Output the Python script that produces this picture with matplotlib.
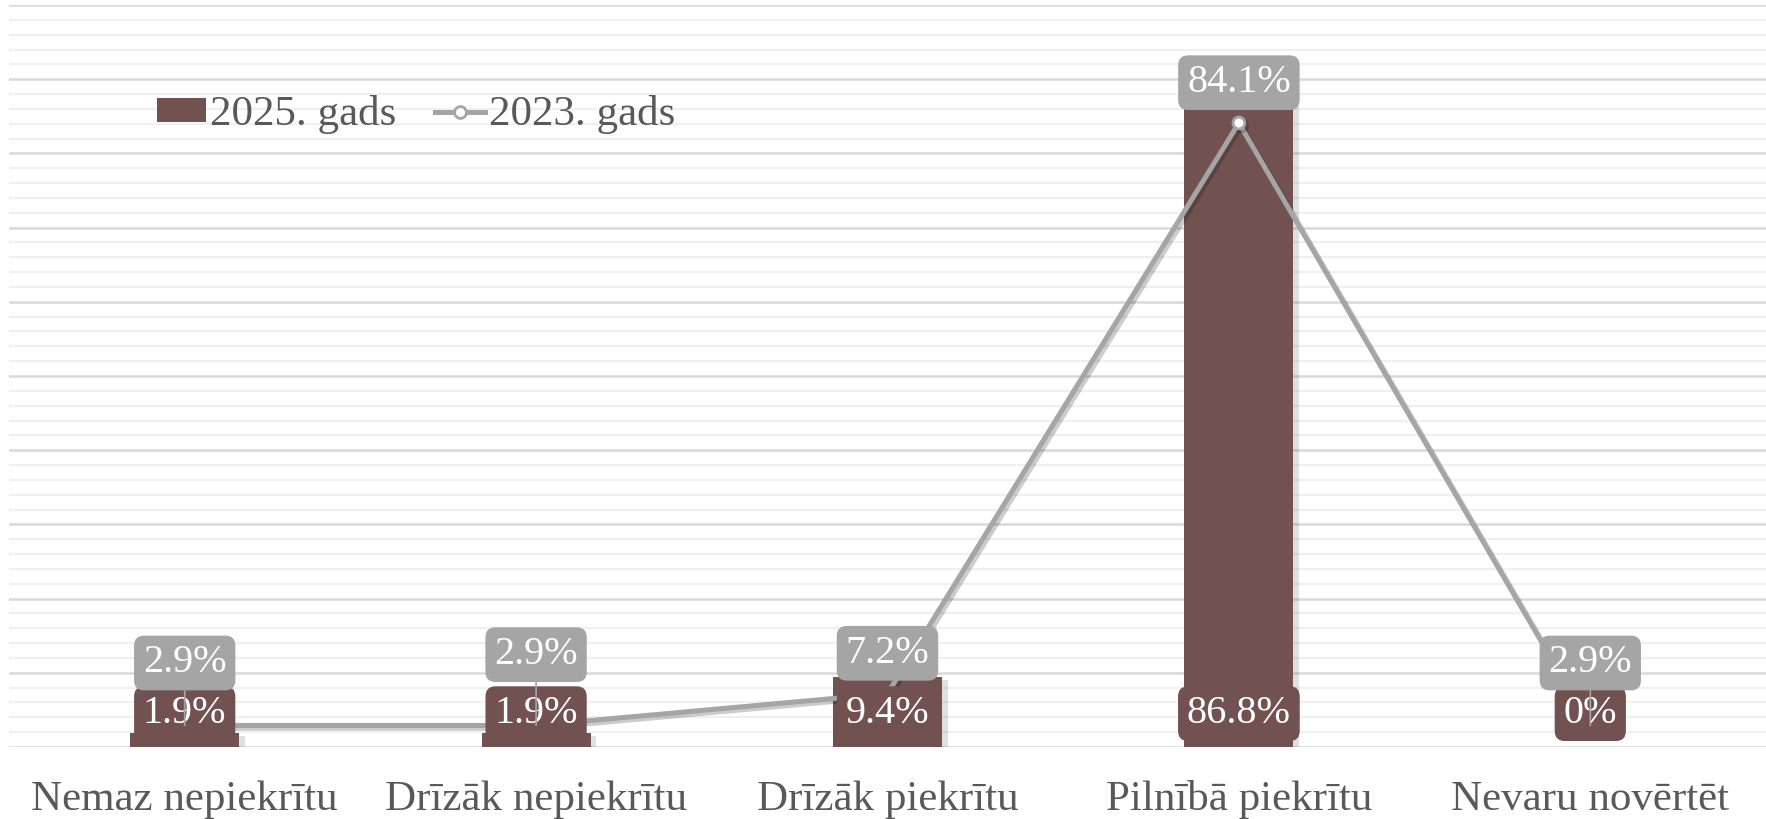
import matplotlib
matplotlib.use("Agg")
import matplotlib.pyplot as plt
import matplotlib.patheffects as pe
from matplotlib.patches import Patch
from matplotlib.lines import Line2D
import numpy as np

categories = ["Nemaz nepiekrītu", "Drīzāk nepiekrītu", "Drīzāk piekrītu", "Pilnībā piekrītu", "Nevaru novērtēt"]
values_2025 = [1.9, 1.9, 9.4, 86.8, 0.0]
values_2023 = [2.9, 2.9, 7.2, 84.1, 2.9]
labels_2025 = ["1.9%", "1.9%", "9.4%", "86.8%", "0%"]
labels_2023 = ["2.9%", "2.9%", "7.2%", "84.1%", "2.9%"]
series_names = ["2025. gads", "2023. gads"]

BAR_C = "#725250"
LINE_C = "#A5A5A5"
TXT_C = "#595959"
FONT = "Liberation Serif"

plt.rcParams["font.family"] = [FONT, "DejaVu Serif"]

fig = plt.figure(figsize=(17.66, 8.19), dpi=100)
ax = fig.add_axes([9 / 1766, 1 - 747 / 819, 1 - 9 / 1766, (747 - 5) / 819])
x = np.arange(len(categories))

ax.set_xlim(-0.5, len(categories) - 0.5)
ax.set_ylim(0, 100)

# gridlines
for yv in np.arange(0, 101, 2):
    major = (yv % 10 == 0)
    ax.axhline(yv, color="#D9D9D9" if major else "#F0F0F0", lw=1.8 if major else 1.6, zorder=0)

bars = ax.bar(x, values_2025, width=0.31, color=BAR_C, zorder=2,
              path_effects=[pe.SimplePatchShadow(offset=(4, -2), shadow_rgbFace="#000000", alpha=0.12), pe.Normal()])

line, = ax.plot(x, values_2023, color=LINE_C, lw=3.6, marker="o", markersize=8.5,
                markerfacecolor="white", markeredgecolor=LINE_C, markeredgewidth=2, zorder=3,
                path_effects=[pe.SimpleLineShadow(offset=(2, -2), alpha=0.2), pe.Normal()])

# bar labels (inside base)
for xi, lab in zip(x, labels_2025):
    ax.annotate(lab, (xi, 0), xytext=(0, 24), textcoords="offset points", ha="center", va="center",
                fontsize=29, color="white", zorder=5,
                bbox=dict(boxstyle="round,pad=0.22,rounding_size=0.25", fc=BAR_C, ec="none"))

# line labels
label_offsets = [45, 51, 29, 29, 45]
for xi, v, lab, off in zip(x, values_2023, labels_2023, label_offsets):
    ax.annotate(lab, (xi, v), xytext=(0, off), textcoords="offset points", ha="center", va="center",
                fontsize=29, color="white", zorder=6,
                bbox=dict(boxstyle="round,pad=0.22,rounding_size=0.25", fc=LINE_C, ec="none"),
                arrowprops=dict(arrowstyle="-", color=LINE_C, lw=1.2, shrinkA=0, shrinkB=0) if off > 40 else None)

for s in ax.spines.values():
    s.set_visible(False)
ax.set_yticks([])
ax.set_xticks(x)
ax.set_xticklabels(categories, fontsize=31, color=TXT_C)
ax.tick_params(axis="x", length=0, pad=24)

h_bar = Patch(facecolor=BAR_C, edgecolor="none")
h_line = Line2D([], [], color=LINE_C, lw=3.6, marker="o", markersize=8.5,
                markerfacecolor="white", markeredgecolor=LINE_C, markeredgewidth=2)
leg = ax.legend([h_bar, h_line], series_names, loc="center left", bbox_to_anchor=(0.084, 0.852),
                frameon=False, ncol=2, fontsize=31, handlelength=1.15, handleheight=0.5, handletextpad=0.1,
                columnspacing=0.9, borderpad=0, borderaxespad=0)
for t in leg.get_texts():
    t.set_color(TXT_C)

fig.savefig("out.png", dpi=100, facecolor="white")
